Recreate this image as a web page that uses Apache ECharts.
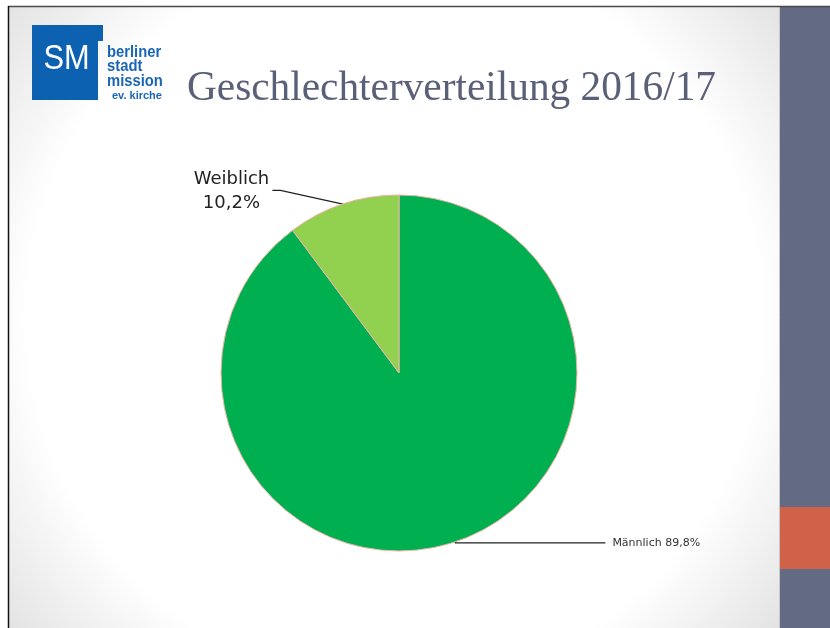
<!DOCTYPE html>
<html>
<head>
<meta charset="utf-8">
<style>
html,body{margin:0;padding:0;background:#fff;}
#chart{width:830px;height:628px;}
</style>
<script src="https://cdn.jsdelivr.net/npm/echarts@6/dist/echarts.min.js"></script>
</head>
<body>
<div id="chart"></div>
<script>
// Data
const categories = ['Männlich', 'Weiblich'];
const values = [89.8, 10.2];
const labelLines = [['Männlich 89,8%'], ['Weiblich', '10,2%']];
const titleText = 'Geschlechterverteilung 2016/17';
const logoLines = ['berliner', 'stadt', 'mission', 'ev. kirche'];

const colors = ['#00b050', '#92d050'];

function measure(font, text) {
  const c = document.createElement('canvas').getContext('2d');
  c.font = font;
  return c.measureText(text).width;
}

const chart = echarts.init(document.getElementById('chart'), null, {renderer: 'canvas'});

const pieData = categories.map((c, i) => ({
  name: c,
  value: values[i],
  itemStyle: {color: colors[i]},
  label: i === 0
    ? {formatter: labelLines[i].join('\n'), fontSize: 11, color: '#333', fontFamily: 'DejaVu Sans', padding: [0, 0, 0, 2]}
    : {formatter: labelLines[i].map(t => '{a|' + t + '}').join('\n'),
       rich: {a: {fontSize: 18, color: '#222', fontFamily: 'DejaVu Sans', lineHeight: 24, width: 80, align: 'center'}},
       padding: [0, 0, 0, 0]},
  labelLine: i === 0 ? {length: 1, length2: 150} : {length: 8, length2: 64}
}));

const titleFont = '42px "Liberation Serif"';
const titleW = measure(titleFont, titleText);
const titleScale = 529 / titleW;

const graphics = [
  // slide background with vignette
  {type: 'rect', z: -10, shape: {x: 9, y: 7, width: 771, height: 621},
    style: {fill: new echarts.graphic.RadialGradient(0.5, 0.5, 0.82, [
      {offset: 0, color: '#ffffff'}, {offset: 0.72, color: '#ffffff'}, {offset: 1, color: '#e0e0e0'}])}},
  // right panel
  {type: 'rect', z: -9, shape: {x: 780, y: 7, width: 50, height: 621}, style: {fill: '#636a84'}},
  {type: 'rect', z: -8, shape: {x: 780, y: 507, width: 50, height: 62}, style: {fill: '#d0624a'}},
  {type: 'line', z: -8, shape: {x1: 779.5, y1: 7, x2: 779.5, y2: 628}, style: {stroke: '#c8c8c8', lineWidth: 1}},
  // borders
  {type: 'line', z: -7, shape: {x1: 8, y1: 6.5, x2: 830, y2: 6.5}, style: {stroke: '#4a4a4a', lineWidth: 1.5}},
  {type: 'line', z: -7, shape: {x1: 8.5, y1: 6, x2: 8.5, y2: 628}, style: {stroke: '#111', lineWidth: 1.5}},
  // logo
  {type: 'rect', shape: {x: 32, y: 25, width: 66, height: 75}, style: {fill: '#0c62b0'}},
  {type: 'rect', shape: {x: 97, y: 25, width: 6, height: 16}, style: {fill: '#0c62b0'}},
  {type: 'text', x: 66.5, scaleX: 0.88, originX: 0,
    style: {x: 0, y: 59, text: 'SM', fill: '#fff', font: '35px "Liberation Sans"', align: 'center', verticalAlign: 'middle'}},
  // title
  {type: 'text', x: 187, scaleX: titleScale, originX: 0,
    style: {x: 0, y: 103 - 0.34 * 42, text: titleText, fill: '#5b6079', font: titleFont, verticalAlign: 'middle'}}
];
const logoBase = [58, 72, 87, 100];
logoLines.forEach((t, i) => {
  const fs = i === 3 ? 11 : 17;
  graphics.push({type: 'text', x: i === 3 ? 112 : 107, scaleX: i === 3 ? 1 : 0.87, originX: 0, style: {
    x: 0, y: logoBase[i] - 0.34 * fs, text: t, fill: '#1a66b5',
    font: 'bold ' + fs + 'px "Liberation Sans"', verticalAlign: 'middle'}});
});

chart.setOption({
  animation: false,
  graphic: graphics,
  series: [{
    type: 'pie',
    center: [399, 373],
    radius: 178,
    startAngle: 90,
    clockwise: true,
    data: pieData,
    itemStyle: {borderColor: '#efb3a5', borderWidth: 1},
    label: {show: true, position: 'outside'},
    labelLine: {show: true, smooth: false, lineStyle: {color: '#222', width: 1.3}},
    labelLayout: function (params) {
      if (params.dataIndex !== 1 || !params.labelLinePoints) return {};
      const r = params.labelRect;
      const dy = -5;
      const p0 = params.labelLinePoints[0];
      const endX = r.x + r.width + 1;
      const yLine = r.y + dy + 20;
      return {dy: dy, labelLinePoints: [p0, [endX + 8, yLine], [endX, yLine]]};
    },
    emphasis: {disabled: true}
  }]
});
</script>
</body>
</html>
